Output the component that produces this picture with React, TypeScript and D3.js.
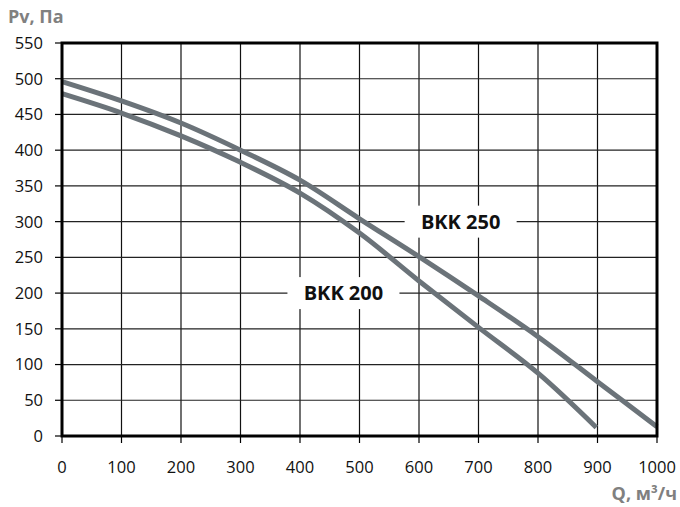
import React, { useEffect, useRef } from "react";
import * as d3 from "d3";

// flow rate, m3/h
const flow = [0, 100, 200, 300, 400, 500, 600, 700, 800, 900, 1000];
const flow200 = [0, 100, 200, 300, 400, 500, 600, 700, 800, 898];
// pressure, Pa
const bkk250 = [496, 469, 438, 400, 358, 304, 251, 196, 139, 76, 13];
const bkk200 = [479, 452, 420, 383, 340, 284, 217, 152, 88, 12];

const xTicks = [0, 100, 200, 300, 400, 500, 600, 700, 800, 900, 1000];
const yTicks = [0, 50, 100, 150, 200, 250, 300, 350, 400, 450, 500, 550];

const seriesLabels = [
  { name: "BKK 250", q: 670, p: 300 },
  { name: "BKK 200", q: 473, p: 200 },
];

const App = () => {
  const ref = useRef<SVGSVGElement>(null);

  useEffect(() => {
    const width = 680;
    const height = 507;
    const left = 62;
    const right = 657;
    const top = 43;
    const bottom = 436;

    const svg = d3.select(ref.current);
    svg.selectAll("*").remove();

    const x = d3.scaleLinear().domain([0, 1000]).range([left, right]);
    const y = d3.scaleLinear().domain([0, 550]).range([bottom, top]);

    const font = "'Open Sans', sans-serif";

    // grid
    const grid = svg.append("g");
    grid
      .selectAll("line.v")
      .data(xTicks.slice(1, -1))
      .enter()
      .append("line")
      .attr("x1", (d) => x(d))
      .attr("x2", (d) => x(d))
      .attr("y1", top)
      .attr("y2", bottom)
      .attr("stroke", "#111")
      .attr("stroke-width", 1.2);
    grid
      .selectAll("line.h")
      .data(yTicks.slice(1, -1))
      .enter()
      .append("line")
      .attr("x1", left)
      .attr("x2", right)
      .attr("y1", (d) => y(d))
      .attr("y2", (d) => y(d))
      .attr("stroke", "#222")
      .attr("stroke-width", 1.2);

    // ticks outside the frame
    svg
      .append("g")
      .selectAll("line")
      .data(xTicks)
      .enter()
      .append("line")
      .attr("x1", (d) => x(d))
      .attr("x2", (d) => x(d))
      .attr("y1", bottom)
      .attr("y2", bottom + 7)
      .attr("stroke", "#000")
      .attr("stroke-width", 1.2);
    svg
      .append("g")
      .selectAll("line")
      .data(yTicks)
      .enter()
      .append("line")
      .attr("x1", left - 7)
      .attr("x2", left)
      .attr("y1", (d) => y(d))
      .attr("y2", (d) => y(d))
      .attr("stroke", "#000")
      .attr("stroke-width", 1.2);

    // tick labels
    svg
      .append("g")
      .selectAll("text")
      .data(xTicks)
      .enter()
      .append("text")
      .attr("x", (d) => x(d))
      .attr("y", bottom + 37)
      .attr("text-anchor", "middle")
      .attr("font-family", font)
      .attr("font-size", 16.5)
      .attr("fill", "#111")
      .text((d) => d);
    svg
      .append("g")
      .selectAll("text")
      .data(yTicks)
      .enter()
      .append("text")
      .attr("x", left - 19)
      .attr("y", (d) => y(d))
      .attr("dy", "0.36em")
      .attr("text-anchor", "end")
      .attr("font-family", font)
      .attr("font-size", 16.5)
      .attr("fill", "#111")
      .text((d) => d);

    // curves
    const draw = (qs: number[], ps: number[]) => {
      const line = d3
        .line<number>()
        .x((d, i) => x(qs[i]))
        .y((d) => y(d))
        .curve(d3.curveCatmullRom.alpha(0.5));
      svg
        .append("path")
        .attr("d", line(ps))
        .attr("fill", "none")
        .attr("stroke", "#6b7379")
        .attr("stroke-width", 5);
    };
    draw(flow, bkk250);
    draw(flow200, bkk200);

    // series labels with white boxes
    seriesLabels.forEach((l) => {
      const cx = x(l.q);
      const cy = y(l.p);
      svg
        .append("rect")
        .attr("x", cx - 56)
        .attr("y", cy - 16)
        .attr("width", 112)
        .attr("height", 32)
        .attr("fill", "#fff");
      svg
        .append("text")
        .attr("x", cx)
        .attr("y", cy)
        .attr("dy", "0.36em")
        .attr("text-anchor", "middle")
        .attr("font-family", font)
        .attr("font-weight", "bold")
        .attr("font-size", 20)
        .attr("fill", "#111")
        .text(l.name);
    });

    // frame
    svg
      .append("rect")
      .attr("x", left)
      .attr("y", top)
      .attr("width", right - left)
      .attr("height", bottom - top)
      .attr("fill", "none")
      .attr("stroke", "#000")
      .attr("stroke-width", 3);

    // axis titles
    svg
      .append("text")
      .attr("x", 8)
      .attr("y", 23)
      .attr("font-family", font)
      .attr("font-weight", "bold")
      .attr("font-size", 18)
      .attr("fill", "#808080")
      .text("Pv, Па");
    svg
      .append("text")
      .attr("x", 677)
      .attr("y", 500)
      .attr("text-anchor", "end")
      .attr("font-family", font)
      .attr("font-weight", "bold")
      .attr("font-size", 18)
      .attr("fill", "#808080")
      .text("Q, м³/ч");

    svg.attr("width", width).attr("height", height);
  }, []);

  return (
    <svg
      ref={ref}
      style={{ position: "absolute", left: 0, top: 0, background: "#fff" }}
    />
  );
};

export default App;
